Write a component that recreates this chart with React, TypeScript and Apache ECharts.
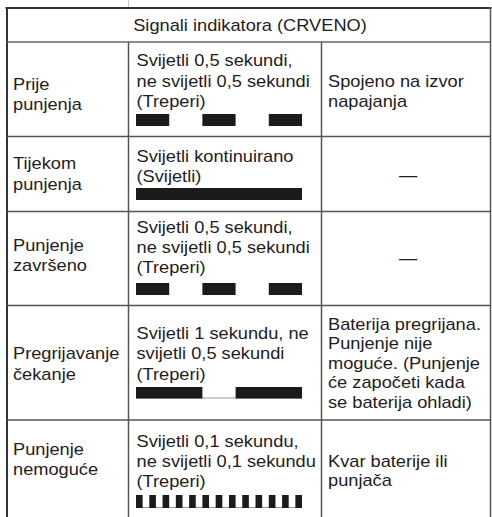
import React, { useEffect, useRef } from "react";
import * as echarts from "echarts";

// ---------- data ----------
const headerTitle = "Signali indikatora (CRVENO)";
const stateLabels = [
  "Prije\npunjenja",
  "Tijekom\npunjenja",
  "Punjenje\nzavršeno",
  "Pregrijavanje\nčekanje",
  "Punjenje\nnemoguće",
];
const signalTexts = [
  "Svijetli 0,5 sekundi,\nne svijetli 0,5 sekundi\n(Treperi)",
  "Svijetli kontinuirano\n(Svijetli)",
  "Svijetli 0,5 sekundi,\nne svijetli 0,5 sekundi\n(Treperi)",
  "Svijetli 1 sekundu, ne\nsvijetli 0,5 sekundi\n(Treperi)",
  "Svijetli 0,1 sekundu,\nne svijetli 0,1 sekundu\n(Treperi)",
];
const notes = [
  "Spojeno na izvor\nnapajanja",
  "—",
  "—",
  "Baterija pregrijana.\nPunjenje nije\nmoguće. (Punjenje\nće započeti kada\nse baterija ohladi)",
  "Kvar baterije ili\npunjača",
];
// lit intervals in seconds [start, end] over the drawn timeline
const timelineSeconds = 2.5;
const litPrije = [[0, 0.5], [1, 1.5], [2, 2.5]];
const litTijekom = [[0, 2.5]];
const litZavrseno = [[0, 0.5], [1, 1.5], [2, 2.5]];
const litPregrijavanje = [[0, 1], [1.5, 2.5]];
const litNemoguce = [
  [0, 0.1], [0.2, 0.3], [0.4, 0.5], [0.6, 0.7], [0.8, 0.9], [1.0, 1.1], [1.2, 1.3],
  [1.4, 1.5], [1.6, 1.7], [1.8, 1.9], [2.0, 2.1], [2.2, 2.3], [2.4, 2.5],
];
const litIntervals = [litPrije, litTijekom, litZavrseno, litPregrijavanje, litNemoguce];
const showBaseline = [false, false, false, true, true];

// ---------- layout ----------
const W = 492;
const H = 517;
const FONT = "'Liberation Sans', Arial, Helvetica, sans-serif";
const FS = 16;
const SX = 1.14;
const TEXT_COLOR = "#1f1c1d";
const LINE_COLOR = "#555";
const X_LEFT = 7;
const X_RIGHT = 490.5;
const COL1 = 128.5;
const COL2 = 321.5;
const HEADER_BOTTOM = 42;
const ROW_LINES = [136.5, 211.5, 305.5, 420];
const col1X = 13;
const col2X = 136.5;
const col3X = 328;
const col1Base = [90, 169.5, 251, 359.5, 455];
const col2Base = [66.5, 161.7, 233, 339.3, 446.7];
const col3Base = [87.3, 175.7, 258.5, 330, 466.7];
const barTop = [114, 188, 283, 387, 495];
const barH = [12, 12, 12, 11.5, 13];
const LH12 = 20.2;
const LH3 = 19.4;

function textLines(text: string, x: number, firstBase: number, lh: number, align = "left") {
  return text.split("\n").map((t, i) => ({
    type: "text",
    x,
    y: firstBase + i * lh - 5.6,
    scaleX: SX,
    silent: true,
    style: {
      text: t,
      fill: TEXT_COLOR,
      fontSize: FS,
      fontFamily: FONT,
      align,
      verticalAlign: "middle",
    },
  }));
}

function line(x1: number, y1: number, x2: number, y2: number, stroke: string, lineWidth: number) {
  return { type: "line", silent: true, shape: { x1, y1, x2, y2 }, style: { stroke, lineWidth } };
}

export default function App() {
  const ref = useRef<HTMLDivElement>(null);
  useEffect(() => {
    document.body.style.margin = "0";
    const chart = echarts.init(ref.current!, null, { renderer: "svg", width: W, height: H });

    const elements: any[] = [];
    // borders & rules
    elements.push(line(COL1, 0, COL1, 7, "#c8c8c8", 1));
    elements.push(line(5.5, 8, 491.5, 8, "#333", 2));
    elements.push(line(X_LEFT, 7, X_LEFT, H, "#333", 2));
    elements.push(line(X_RIGHT, 7, X_RIGHT, H, LINE_COLOR, 1.5));
    elements.push(line(X_LEFT, HEADER_BOTTOM, X_RIGHT, HEADER_BOTTOM, "#666", 1.5));
    elements.push(line(COL1, HEADER_BOTTOM, COL1, H, LINE_COLOR, 1.5));
    elements.push(line(COL2, HEADER_BOTTOM, COL2, H, LINE_COLOR, 1.5));
    ROW_LINES.forEach((y) => elements.push(line(X_LEFT, y, X_RIGHT, y, LINE_COLOR, 1.5)));

    // header
    elements.push(...textLines(headerTitle, 250, 30.7, LH12, "center"));
    // cells
    stateLabels.forEach((t, i) => elements.push(...textLines(t, col1X, col1Base[i], LH12)));
    signalTexts.forEach((t, i) => elements.push(...textLines(t, col2X, col2Base[i], LH12)));
    notes.forEach((t, i) => {
      if (t === "—") {
        elements.push(...textLines(t, 408, col3Base[i] + 5.6, LH3, "center"));
      } else {
        elements.push(...textLines(t, col3X, col3Base[i], LH3));
      }
    });

    const grids = barTop.map((top, i) => ({
      left: 136,
      width: 166,
      top,
      height: barH[i],
      show: false,
    }));
    const xAxes = barTop.map((_, i) => ({
      type: "value",
      gridIndex: i,
      min: 0,
      max: timelineSeconds,
      show: false,
    }));
    const yAxes = barTop.map((_, i) => ({
      type: "value",
      gridIndex: i,
      min: 0,
      max: 1,
      show: false,
    }));

    const series: any[] = [];
    litIntervals.forEach((intervals, i) => {
      if (showBaseline[i]) {
        series.push({
          type: "custom",
          xAxisIndex: i,
          yAxisIndex: i,
          z: 1,
          silent: true,
          data: [[0, timelineSeconds]],
          renderItem: (_p: any, api: any) => {
            const a = api.coord([api.value(0), 0]);
            const b = api.coord([api.value(1), 0]);
            return {
              type: "line",
              shape: { x1: a[0], y1: a[1] - 0.5, x2: b[0], y2: b[1] - 0.5 },
              style: { stroke: "#9a9a9a", lineWidth: 1 },
            };
          },
        });
      }
      series.push({
        type: "custom",
        xAxisIndex: i,
        yAxisIndex: i,
        z: 2,
        silent: true,
        data: intervals,
        renderItem: (_p: any, api: any) => {
          const a = api.coord([api.value(0), 1]);
          const b = api.coord([api.value(1), 0]);
          return {
            type: "rect",
            shape: { x: a[0], y: a[1], width: b[0] - a[0], height: b[1] - a[1] },
            style: { fill: "#1b1b1b" },
          };
        },
      });
    });

    chart.setOption({
      animation: false,
      backgroundColor: "#ffffff",
      grid: grids,
      xAxis: xAxes,
      yAxis: yAxes,
      series,
      graphic: { elements },
    });
    return () => chart.dispose();
  }, []);

  return (
    <div
      ref={ref}
      style={{ position: "fixed", left: 0, top: 0, width: W, height: H, background: "#fff" }}
    />
  );
}
